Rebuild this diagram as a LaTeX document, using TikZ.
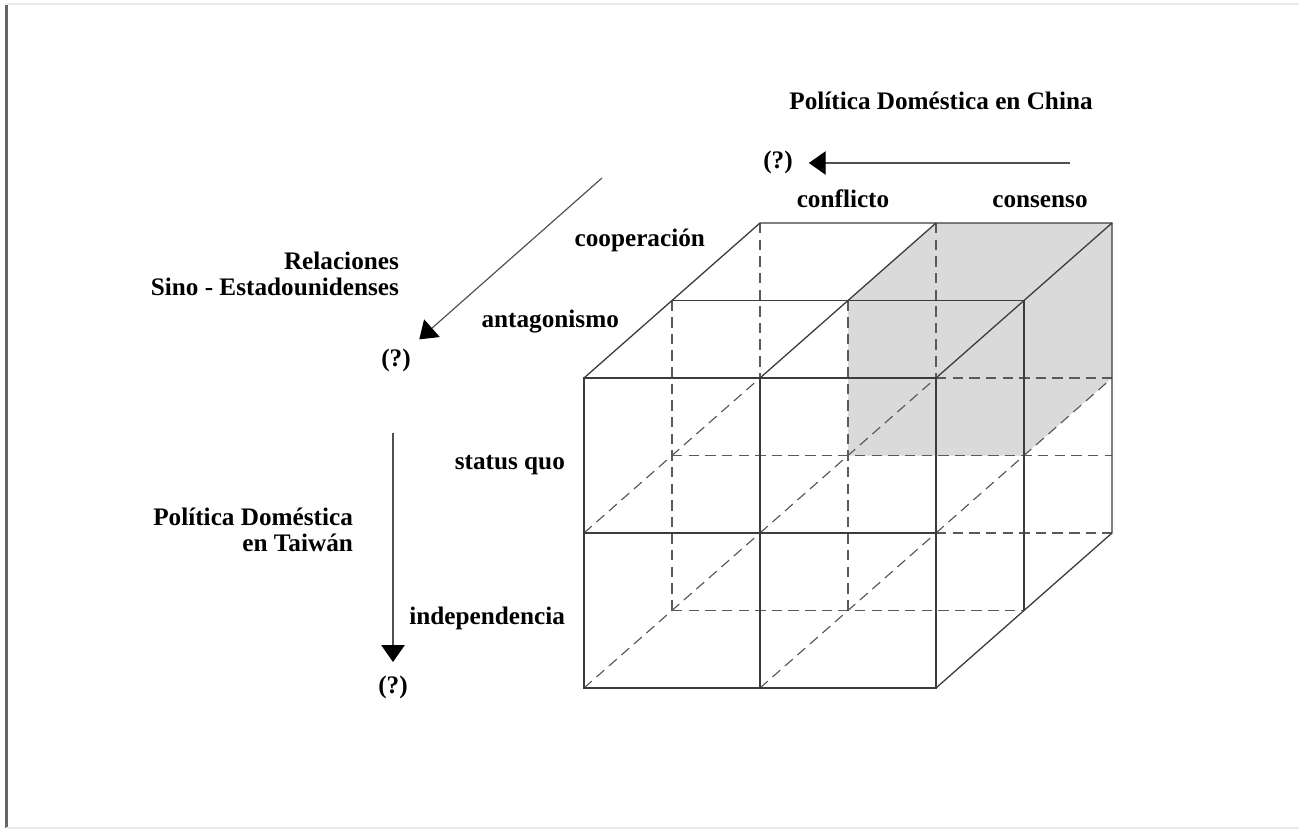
\documentclass[tikz,border=0pt]{standalone}
\usepackage{fontspec}
\setmainfont{Liberation Serif}
\usepackage{tikz}
\usetikzlibrary{arrows.meta,positioning}
\definecolor{CubeLine}{HTML}{3C3C3C}
\definecolor{ArrowGray}{HTML}{505050}
\definecolor{ShadeGray}{HTML}{DADADA}

\begin{document}
\begin{tikzpicture}[x=0.01352cm,y=-0.01352cm,
txt/.style={font=\fontsize{9.7}{10}\selectfont\bfseries,inner sep=1pt},
cubeline/.style={draw=CubeLine,line width=0.5pt},
hiddenline/.style={draw=CubeLine!85,line width=0.45pt,dash pattern=on 4pt off 2.4pt},
arr/.style={-{Triangle[length=6.5pt,width=9pt,color=black]},draw=ArrowGray,line width=0.45pt}
]
\useasboundingbox (0,0) rectangle (1299,832);
% page frame
\draw[black!60,line width=0.8pt] (6.5,5) -- (6.5,828);
\draw[black!8,line width=0.4pt] (6.5,4) -- (1299,4);
\draw[black!8,line width=0.4pt] (6.5,828) -- (1299,828);

% shaded block: consenso / cooperacion
\fill[ShadeGray] (848,300.5) -- (936,223) -- (1112,223) -- (1112,378) -- (1024,455.5) -- (848,455.5) -- cycle;

% hidden edges
\draw[hiddenline] (760,223) -- (760,378);
\draw[hiddenline] (936,223) -- (936,378);
\draw[hiddenline] (936,378) -- (1112,378);
\draw[hiddenline] (936,533) -- (1112,533);
\draw[hiddenline] (672,300.5) -- (672,610.5);
\draw[hiddenline] (848,300.5) -- (848,610.5);
\draw[hiddenline] (672,455.5) -- (1112,455.5);
\draw[hiddenline] (672,610.5) -- (1024,610.5);
\draw[hiddenline] (584,533) -- (760,378);
\draw[hiddenline] (760,533) -- (936,378);
\draw[hiddenline] (936,533) -- (1112,378);
\draw[hiddenline] (584,688) -- (760,533);
\draw[hiddenline] (760,688) -- (936,533);

% visible edges
\draw[cubeline] (584,378) rectangle (936,688);
\draw[cubeline] (760,378) -- (760,688);
\draw[cubeline] (584,533) -- (936,533);
\draw[cubeline] (584,378) -- (760,223) -- (1112,223) -- (1112,533) -- (936,688);
\draw[cubeline] (760,378) -- (936,223);
\draw[cubeline] (936,378) -- (1112,223);
\draw[cubeline] (672,300.5) -- (1024,300.5) -- (1024,610.5);

% axis: China
\node[txt,anchor=base] (chinaTitle) at (941,109) {Política Doméstica en China};
\node[txt,anchor=base] (qChina) at (778,169) {(?)};
\coordinate (chinaStart) at (1070,163);
\draw[arr,shorten >=5pt] (chinaStart) -- (qChina.east |- chinaStart);
\node[txt,anchor=base] (colConf) at (843,207) {conflicto};
\node[txt,anchor=base] (colCons) at (1040,207) {consenso};

% axis: Sino-US relations
\node[txt,align=right,anchor=east] (relTitle) at (402,273.5) {Relaciones\\Sino - Estadounidenses};
\node[txt,anchor=base] (qRel) at (396,366) {(?)};
\coordinate (relStart) at (602,178);
\draw[arr,shorten >=3.5pt] (relStart) -- (qRel);
\node[txt,anchor=base east] (depCoop) at (708,246) {cooperación};
\node[txt,anchor=base east] (depAnt) at (622,327) {antagonismo};

% axis: Taiwan
\node[txt,align=right,anchor=east] (twTitle) at (356,530) {Política Doméstica\\en Taiwán};
\node[txt,anchor=base] (qTw) at (393,693) {(?)};
\coordinate (twStart) at (393,433);
\draw[arr,shorten >=4pt] (twStart) -- (qTw);
\node[txt,anchor=base east] (rowSQ) at (568,469) {status quo};
\node[txt,anchor=base east] (rowInd) at (568,624) {independencia};
\end{tikzpicture}
\end{document}
